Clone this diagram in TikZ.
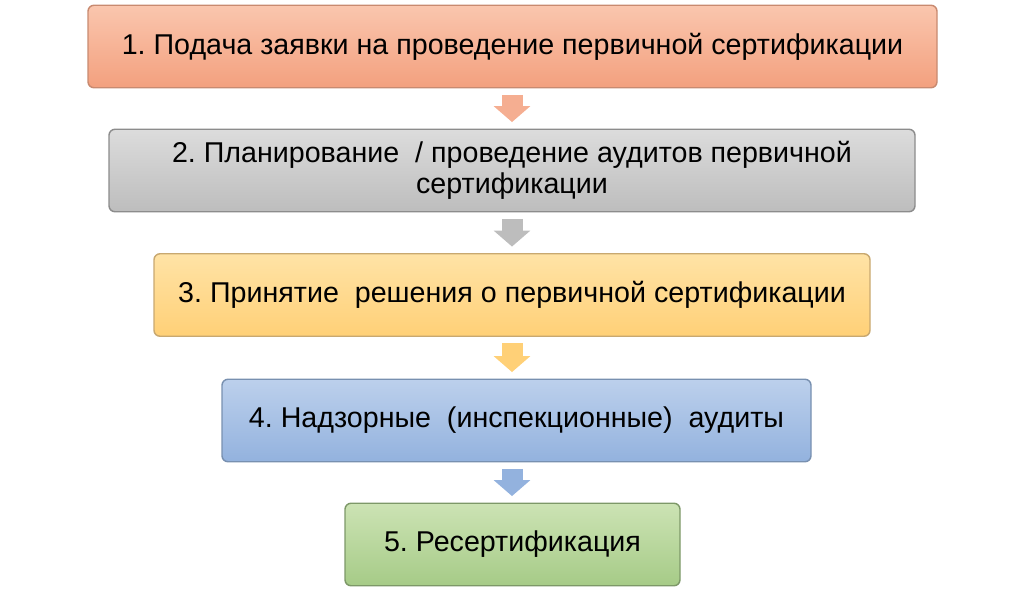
\documentclass[tikz,border=0pt]{standalone}
\usepackage{fontspec}
\setmainfont{Liberation Sans}
\usetikzlibrary{arrows.meta}
\frenchspacing
\definecolor{salmonT}{HTML}{FAC6AE}
\definecolor{salmonB}{HTML}{F3A07E}
\definecolor{salmonD}{HTML}{C88A70}
\definecolor{greyT}{HTML}{DCDCDC}
\definecolor{greyB}{HTML}{BDBDBD}
\definecolor{greyD}{HTML}{8C8C8C}
\definecolor{yellowT}{HTML}{FFE3A6}
\definecolor{yellowB}{HTML}{FFD077}
\definecolor{yellowD}{HTML}{C8A870}
\definecolor{blueT}{HTML}{BCD0EC}
\definecolor{blueB}{HTML}{93B2DE}
\definecolor{blueD}{HTML}{7890B0}
\definecolor{greenT}{HTML}{CCE3B4}
\definecolor{greenB}{HTML}{A6CB87}
\definecolor{greenD}{HTML}{7D9868}
\begin{document}
\begin{tikzpicture}[
  stagebox/.style={rectangle, rounded corners=0.12cm, line width=0.8pt,
    minimum height=1.65cm, inner sep=0pt, align=center,
    font=\fontsize{16.3}{18}\selectfont},
  flowarrow/.style={-{Triangle[width=0.72cm,length=0.32cm]}, line width=0.42cm,
    shorten <=0.13cm, shorten >=0.13cm}
]
\useasboundingbox (0,0) rectangle (20.48,-11.82);
% stages
\node[stagebox, minimum width=16.98cm, top color=salmonT, bottom color=salmonB, draw=salmonD]
  (s1) at (10.25,-0.93) {1. Подача заявки на проведение первичной сертификации};
\node[stagebox, minimum width=16.12cm, top color=greyT, bottom color=greyB, draw=greyD]
  (s2) at (10.24,-3.41) {2. Планирование \ / проведение аудитов первичной\\сертификации};
\node[stagebox, minimum width=14.32cm, top color=yellowT, bottom color=yellowB, draw=yellowD]
  (s3) at (10.24,-5.90) {3. Принятие \ решения о первичной сертификации};
\node[stagebox, minimum width=11.78cm, top color=blueT, bottom color=blueB, draw=blueD]
  (s4) at (10.33,-8.41) {4. Надзорные \ (инспекционные) \ аудиты};
\node[stagebox, minimum width=6.70cm, top color=greenT, bottom color=greenB, draw=greenD]
  (s5) at (10.25,-10.89) {5. Ресертификация};
% arrows
\draw[flowarrow, salmonB!85] (s1.south -| 10.24,0) -- (s2.north -| 10.24,0);
\draw[flowarrow, greyB] (s2.south -| 10.24,0) -- (s3.north -| 10.24,0);
\draw[flowarrow, yellowB] (s3.south -| 10.24,0) -- (s4.north -| 10.24,0);
\draw[flowarrow, blueB] (s4.south -| 10.24,0) -- (s5.north -| 10.24,0);
\end{tikzpicture}
\end{document}
